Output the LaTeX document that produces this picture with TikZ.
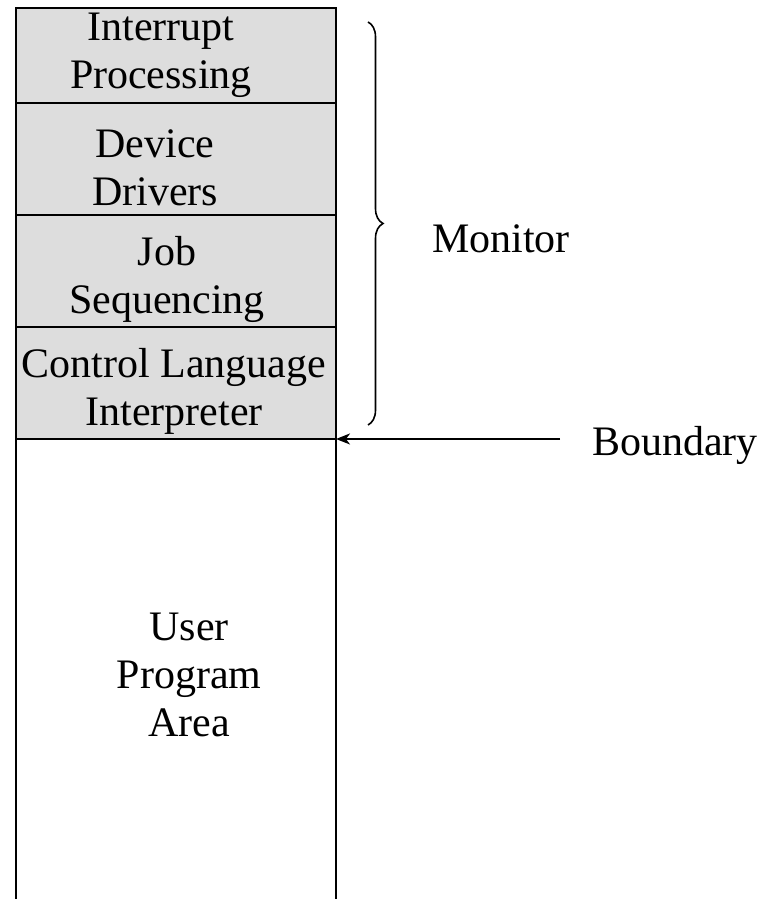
\documentclass[tikz,border=0pt]{standalone}
\usepackage{fontspec}
\setmainfont{Liberation Serif}
\usetikzlibrary{arrows.meta,decorations.pathreplacing}
\definecolor{monfill}{HTML}{DDDDDD}
\tikzset{
  seg/.style={draw=black,line width=2pt,fill=monfill,minimum width=320pt,inner sep=0pt,outer sep=0pt,anchor=north west},
  lbl/.style={font=\fontsize{42}{48}\selectfont,align=center,inner sep=0pt},
}
\begin{document}
\begin{tikzpicture}[x=1pt,y=1pt]
\useasboundingbox (0,0) rectangle (763,899);
% monitor segments
\node[seg,minimum height=95pt] (ip) at (16,891) {};
\node[seg,minimum height=112pt] (dd) at (16,796) {};
\node[seg,minimum height=112pt] (js) at (16,684) {};
\node[seg,minimum height=112pt] (cl) at (16,572) {};
% user program area (open at bottom)
\draw[line width=2pt] (cl.south west) -- (16,0);
\draw[line width=2pt] (cl.south east) -- (336,0);
% texts
\node[lbl] (tip) at (161,844) {Interrupt\\Processing};
\node[lbl] (tdd) at (155,731) {Device\\Drivers};
\node[lbl] (tjs) at (167,620) {Job\\Sequencing};
\node[lbl] (tcl) at (174,508) {Control Language\\Interpreter};
\node[lbl] (tup) at (189,224) {User\\Program\\Area};
% brace
\draw[line width=1.6pt,decorate,decoration={brace,amplitude=15pt}] (368,877) -- (368,474);
\node[lbl,anchor=west] (mon) at (432,660) {Monitor};
% boundary arrow
\coordinate (bstart) at (560,460);
\draw[line width=1.6pt,-{Stealth[length=14pt,width=11pt,inset=4pt]}] (bstart) -- (cl.south east);
\node[lbl,anchor=west] (bnd) at (592,454) {Boundary};
\end{tikzpicture}
\end{document}
